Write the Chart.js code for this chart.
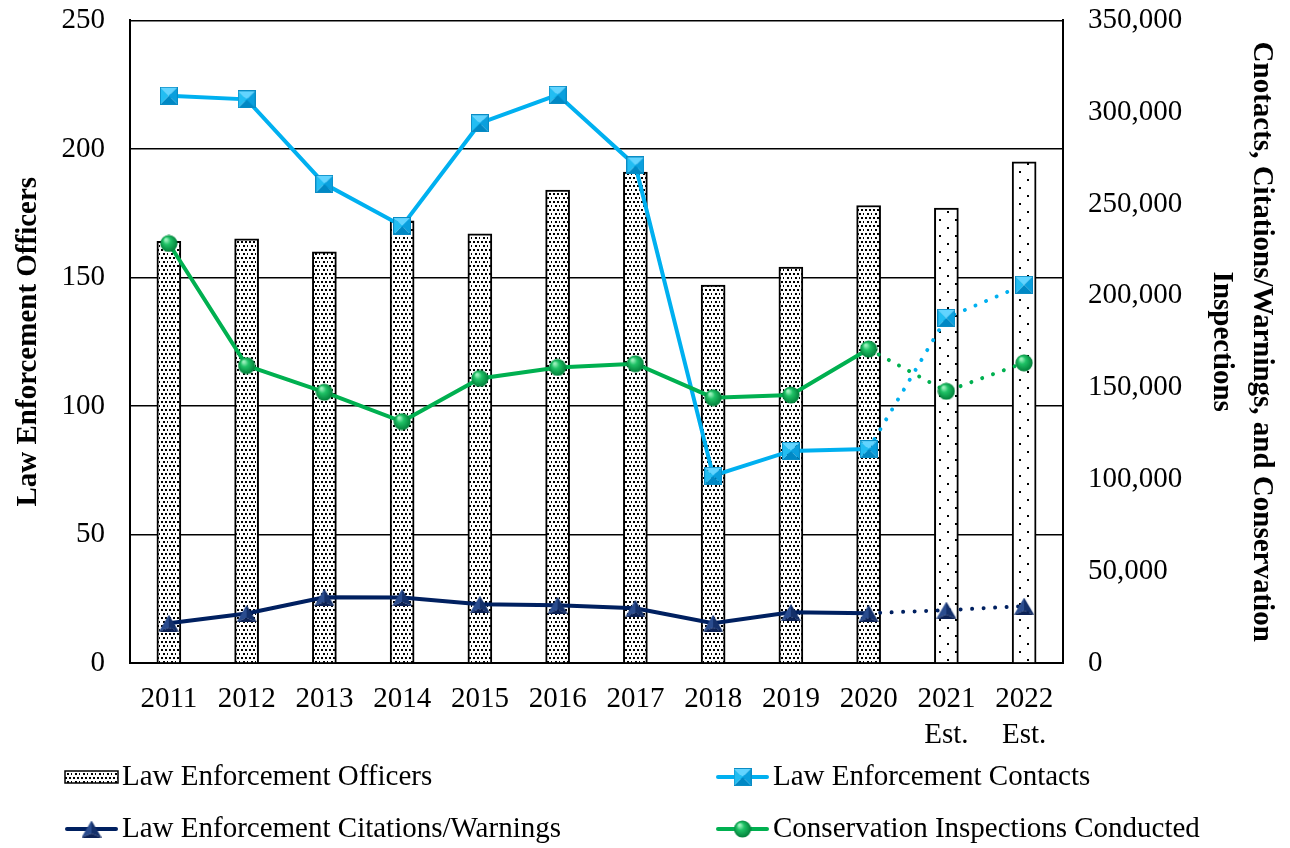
<!DOCTYPE html>
<html>
<head>
<meta charset="utf-8">
<script src="https://cdn.jsdelivr.net/npm/chart.js@4"></script>
<style>
  html, body { margin: 0; padding: 0; background: #fff; }
  #wrap { width: 1290px; height: 848px; }
</style>
</head>
<body>
<div id="wrap"><canvas id="chart" width="1290" height="848"></canvas></div>
<script>
var years = ['2011', '2012', '2013', '2014', '2015', '2016', '2017', '2018', '2019', '2020', ['2021', 'Est.'], ['2022', 'Est.']];
var officers = [164, 165, 160, 172, 167, 184, 191, 147, 154, 178, 177, 195];
var contacts = [309000, 307000, 261000, 238000, 294000, 309500, 271000, 102000, 115500, 116500, 188000, 206000];
var citations = [21700, 27000, 35800, 35700, 32000, 31500, 29800, 21700, 27600, 27100, 28800, 31000];
var inspections = [228500, 162000, 147500, 131500, 155000, 161000, 163000, 144500, 146000, 171000, 148000, 163500];
var leftTicks = [0, 50, 100, 150, 200, 250];
var rightTicks = [0, 50000, 100000, 150000, 200000, 250000, 300000, 350000];

var FONT = "'Liberation Serif', 'Times New Roman', serif";
var estFrom = 9; // segments after 2020 are estimates

function dotPattern(w, h, dots, sz) {
    var c = document.createElement('canvas');
    c.width = w; c.height = h;
    var g = c.getContext('2d');
    g.fillStyle = '#fff';
    g.fillRect(0, 0, w, h);
    g.fillStyle = '#000';
    dots.forEach(function (d) { g.fillRect(d[0], d[1], sz, sz); });
    return document.getElementById('chart').getContext('2d').createPattern(c, 'repeat');
}
var dense = dotPattern(8, 8, [[1, 1], [5, 1], [3, 5], [7, 5]], 2);
var sparse = dotPattern(16, 16, [[3, 3], [11, 11]], 2);
var barFills = officers.map(function (v, i) { return i > estFrom ? sparse : dense; });

function squareMarker() {
    var s = 18, c = document.createElement('canvas');
    c.width = s; c.height = s;
    var g = c.getContext('2d');
    var m = s / 2;
    var faces = [
        ['#62D4FF', [0, 0], [s, 0]],
        ['#0A9FDD', [s, 0], [s, s]],
        ['#0088C4', [s, s], [0, s]],
        ['#22BDF2', [0, s], [0, 0]]
    ];
    faces.forEach(function (f) {
        g.fillStyle = f[0];
        g.beginPath();
        g.moveTo(f[1][0], f[1][1]);
        g.lineTo(f[2][0], f[2][1]);
        g.lineTo(m, m);
        g.closePath();
        g.fill();
    });
    g.strokeStyle = '#0A8CC4';
    g.lineWidth = 1;
    g.strokeRect(0.5, 0.5, s - 1, s - 1);
    return c;
}
function ballMarker() {
    var s = 18, c = document.createElement('canvas');
    c.width = s; c.height = s;
    var g = c.getContext('2d');
    var gr = g.createRadialGradient(6, 5, 1, 9, 9, 9);
    gr.addColorStop(0, '#9BF0BC');
    gr.addColorStop(0.35, '#1FC266');
    gr.addColorStop(1, '#007A36');
    g.fillStyle = gr;
    g.beginPath();
    g.arc(9, 9, 8.6, 0, Math.PI * 2);
    g.fill();
    return c;
}
function triMarker() {
    var w = 20, h = 17, c = document.createElement('canvas');
    c.width = w; c.height = h;
    var g = c.getContext('2d');
    g.fillStyle = '#2A4C8E';
    g.beginPath();
    g.moveTo(w / 2, 0); g.lineTo(0, h); g.lineTo(w / 2, h - 4); g.closePath(); g.fill();
    g.fillStyle = '#14306A';
    g.beginPath();
    g.moveTo(w / 2, 0); g.lineTo(w, h); g.lineTo(w / 2, h - 4); g.closePath(); g.fill();
    g.fillStyle = '#0C2256';
    g.beginPath();
    g.moveTo(0, h); g.lineTo(w, h); g.lineTo(w / 2, h - 4); g.closePath(); g.fill();
    return c;
}
var sqImg = squareMarker(), ballImg = ballMarker(), triImg = triMarker();

function estSegment() {
    return {
        borderDash: function (ctx) { return ctx.p0DataIndex >= estFrom ? [0.01, 11.5] : undefined; },
        borderCapStyle: function (ctx) { return ctx.p0DataIndex >= estFrom ? 'round' : undefined; }
    };
}

// legend drawn in two fixed columns like the original
var legendPlugin = {
    id: 'twoColLegend',
    afterDraw: function (chart) {
        var g = chart.ctx;
        var items = [
            { ds: 0, x: 65, y: 777 },
            { ds: 1, x: 716, y: 777 },
            { ds: 2, x: 65, y: 829 },
            { ds: 3, x: 716, y: 829 }
        ];
        g.save();
        items.forEach(function (it) {
            var ds = chart.data.datasets[it.ds];
            if (ds.type === 'bar') {
                g.fillStyle = dense;
                g.fillRect(it.x, it.y - 6, 53, 12);
                g.strokeStyle = '#000';
                g.lineWidth = 1.5;
                g.strokeRect(it.x, it.y - 6, 53, 12);
            } else {
                g.strokeStyle = ds.borderColor;
                g.lineWidth = 4;
                g.lineCap = 'round';
                g.beginPath();
                g.moveTo(it.x + 2, it.y);
                g.lineTo(it.x + 51, it.y);
                g.stroke();
                var img = ds.pointStyle;
                g.drawImage(img, it.x + 26.5 - img.width / 2, it.y - img.height / 2);
            }
            g.fillStyle = '#000';
            g.font = '29px ' + FONT;
            g.textBaseline = 'middle';
            g.textAlign = 'left';
            g.fillText(ds.label, it.x + 57, it.y);
        });
        g.restore();
    }
};

var ctx = document.getElementById('chart').getContext('2d');
var myChart = new Chart(ctx, {
    data: {
        labels: years,
        datasets: [{
            type: 'bar',
            label: 'Law Enforcement Officers',
            data: officers,
            yAxisID: 'y',
            backgroundColor: barFills,
            borderColor: '#000',
            borderWidth: 2,
            barThickness: 24,
            order: 10
        },
        {
            type: 'line',
            label: 'Law Enforcement Contacts',
            data: contacts,
            yAxisID: 'y2',
            borderColor: '#00B0F0',
            borderWidth: 4,
            pointStyle: sqImg,
            tension: 0,
            segment: estSegment(),
            order: 3
        },
        {
            type: 'line',
            label: 'Law Enforcement Citations/Warnings',
            data: citations,
            yAxisID: 'y2',
            borderColor: '#002060',
            borderWidth: 4,
            pointStyle: triImg,
            tension: 0,
            segment: estSegment(),
            order: 4
        },
        {
            type: 'line',
            label: 'Conservation Inspections Conducted',
            data: inspections,
            yAxisID: 'y2',
            borderColor: '#00B050',
            borderWidth: 4,
            pointStyle: ballImg,
            tension: 0,
            segment: estSegment(),
            order: 2
        }]
    },
    options: {
        responsive: false,
        animation: false,
        events: [],
        layout: { padding: { top: 18, left: 0, right: 0, bottom: 0 } },
        plugins: {
            legend: { display: false },
            tooltip: { enabled: false }
        },
        scales: {
            x: {
                offset: true,
                grid: { display: false, drawTicks: false },
                border: { display: true, color: '#000', width: 2 },
                ticks: {
                    color: '#000',
                    font: { family: FONT, size: 29, lineHeight: 1.25 },
                    padding: 18,
                    maxRotation: 0,
                    autoSkip: false
                },
                afterFit: function (s) { s.height = 185; }
            },
            y: {
                position: 'left',
                min: 0,
                max: 250,
                afterBuildTicks: function (s) { s.ticks = leftTicks.map(function (v) { return { value: v }; }); },
                grid: { color: '#000', lineWidth: 1.5, drawTicks: true, tickLength: 22, tickColor: 'rgba(0,0,0,0)' },
                border: { display: true, color: '#000', width: 2 },
                ticks: {
                    color: '#000',
                    font: { family: FONT, size: 29 },
                    padding: 3
                },
                title: {
                    display: true,
                    text: 'Law Enforcement Officers',
                    color: '#000',
                    font: { family: FONT, size: 29, weight: 'bold' },
                    padding: { top: 11, bottom: 0 }
                },
                afterFit: function (s) { s.width = 130; }
            },
            y2: {
                position: 'right',
                min: 0,
                max: 350000,
                afterBuildTicks: function (s) { s.ticks = rightTicks.map(function (v) { return { value: v }; }); },
                grid: { drawOnChartArea: false, drawTicks: true, tickLength: 22, tickColor: 'rgba(0,0,0,0)' },
                border: { display: true, color: '#000', width: 2 },
                ticks: {
                    color: '#000',
                    font: { family: FONT, size: 29 },
                    padding: 3
                },
                title: {
                    display: true,
                    text: ['Cnotacts, Citations/Warnings, and Conservation', 'Inspections'],
                    color: '#000',
                    font: { family: FONT, size: 29, weight: 'bold', lineHeight: 1.4 },
                    padding: { top: 8, bottom: 0 }
                },
                afterFit: function (s) { s.width = 227; }
            }
        }
    },
    plugins: [legendPlugin]
});
</script>
</body>
</html>
